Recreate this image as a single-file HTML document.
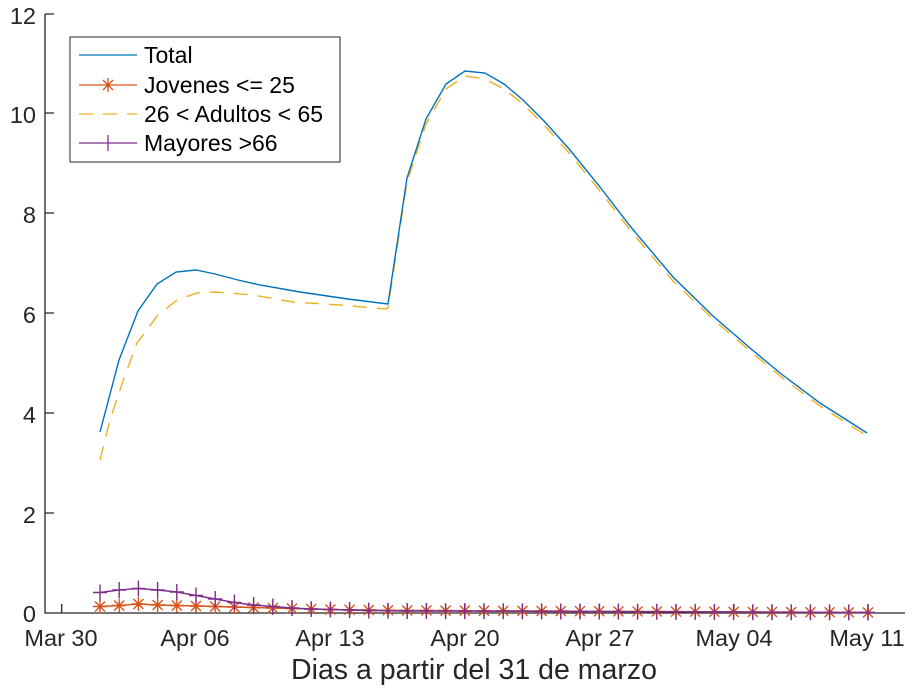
<!DOCTYPE html>
<html><head><meta charset="utf-8"><style>
html,body{margin:0;padding:0;background:#fff;}
svg{display:block;font-family:"Liberation Sans",Arial,sans-serif;}
</style></head><body>
<svg id="s" width="915" height="696" viewBox="0 0 915 696" xmlns="http://www.w3.org/2000/svg">
<rect width="915" height="696" fill="#fff"/>
<g stroke="#262626" stroke-width="1.3" fill="none">
<path d="M45,14 V613 H905"/>
<path d="M45,14 H54 M45,113 H54 M45,213 H54 M45,313 H54 M45,413 H54 M45,513 H54"/>
<path d="M61.7,613 V604 M196,613 V604 M330.5,613 V604 M465,613 V604 M599.5,613 V604 M734,613 V604 M868,613 V604"/>
</g>
<g font-size="23.5" fill="#262626" text-anchor="end">
<text x="36" y="24">12</text><text x="36" y="123">10</text><text x="36" y="223">8</text>
<text x="36" y="323">6</text><text x="36" y="423">4</text><text x="36" y="523">2</text><text x="36" y="622">0</text>
</g>
<g font-size="23.5" fill="#262626" text-anchor="middle">
<text x="61" y="646">Mar 30</text><text x="195" y="646">Apr 06</text><text x="330" y="646">Apr 13</text>
<text x="465" y="646">Apr 20</text><text x="600" y="646">Apr 27</text><text x="734" y="646">May 04</text><text x="867" y="646">May 11</text>
</g>
<text x="474" y="679" font-size="28.5" fill="#262626" text-anchor="middle">Dias a partir del 31 de marzo</text>
<g id="series"></g>
<rect x="70" y="37" width="270" height="125" fill="#fff" stroke="#262626" stroke-width="1"/>
<g stroke-width="1.3" fill="none">
<path d="M79,55 H137" stroke="#0072BD"/>
<path d="M79,85 h58 M101,85 h14 M108,78 v14 M103,80 l10,10 M113,80 l-10,10" stroke="#D95319"/>
<path d="M79,114 H137" stroke="#EDB120" stroke-dasharray="14,10"/>
<path d="M79,143 H137 M108,135 v16" stroke="#7E2F8E"/>
</g>
<g font-size="23" fill="#000">
<text x="144" y="63">Total</text><text x="144" y="93">Jovenes &lt;= 25</text>
<text x="144" y="122">26 &lt; Adultos &lt; 65</text><text x="144" y="151">Mayores &gt;66</text>
</g>
</svg>
<script>
var g=document.getElementById('series');
function P(pts){return 'M'+pts.map(function(p){return p[0]+','+p[1]}).join(' L');}
var tot=[[100,432],[119,360],[138,311],[157,284],[176,272],[196,270],[215,274],[238,280],[260,285],[300,292],[348,299],[388,304],[407,178],[426,119],[446,84],[465,71],[485,73],[504,84],[523,100],[545,122],[570,150],[600,187],[630,226],[673,277],[713,316],[750,348],[780,373],[820,403],[867,433]];
var adu=[[100,460],[110,420],[123,381],[137,343],[158,315],[177,300],[197,293],[215,292],[253,295],[293,302],[340,305],[386,309],[388,308],[407,182],[426,124],[446,89],[465,76],[485,79],[504,89],[523,104],[545,126],[570,154],[600,191],[630,230],[673,281],[713,319],[750,351],[780,376],[820,406],[867,436]];
var ns='http://www.w3.org/2000/svg';
function add(d,st,dash){var e=document.createElementNS(ns,'path');e.setAttribute('d',d);e.setAttribute('stroke',st);e.setAttribute('stroke-width','1.4');e.setAttribute('fill','none');if(dash)e.setAttribute('stroke-dasharray',dash);g.appendChild(e);}
add(P(adu),'#EDB120','14,10');
add(P(tot),'#0072BD');
var may=[0.41,0.46,0.49,0.46,0.42,0.35,0.28,0.21,0.16,0.13,0.1,0.08,0.07,0.06,0.05,0.045,0.04];
var jov=[0.13,0.15,0.18,0.16,0.15,0.14,0.13,0.12,0.11,0.1,0.09,0.08,0.07,0.065,0.06,0.055,0.05];
var mp=[],jp=[],md='',jd='';
for(var i=0;i<=40;i++){var x=100+i*19.2;var m=i<may.length?may[i]:Math.max(0.01,0.04-(i-17)*0.0013);var j=i<jov.length?jov[i]:Math.max(0.01,0.05-(i-17)*0.0017);
var ym=613-m*50,yj=613-j*50;mp.push([x.toFixed(1),ym.toFixed(1)]);jp.push([x.toFixed(1),yj.toFixed(1)]);
jd+='M'+(x-7)+','+yj+'h14M'+x+','+(yj-7)+'v14M'+(x-5)+','+(yj-5)+'l10,10M'+(x+5)+','+(yj-5)+'l-10,10';
md+='M'+(x-7)+','+ym+'h14M'+x+','+(ym-8)+'v16';}
add(P(jp),'#D95319');add(jd,'#D95319');
add(P(mp),'#7E2F8E');add(md,'#7E2F8E');
</script>
</body></html>
